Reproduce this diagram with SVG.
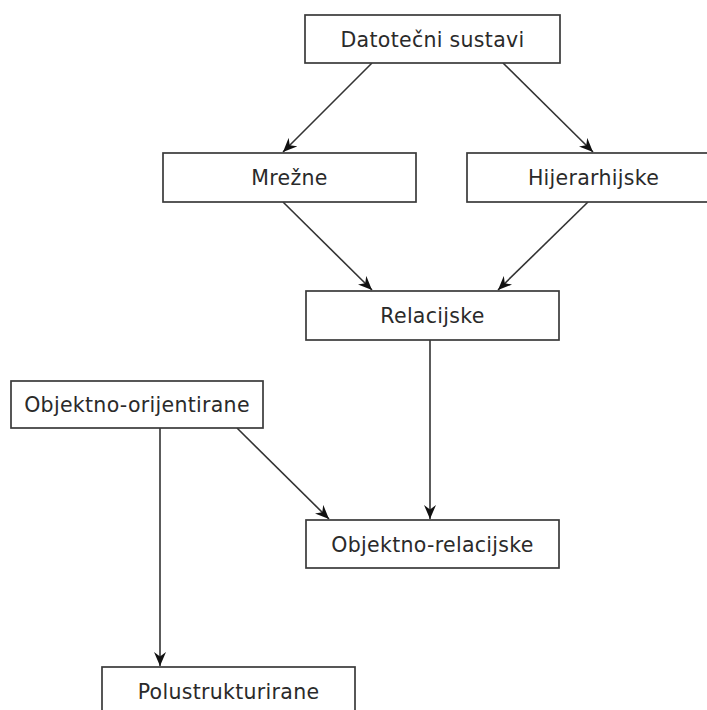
<svg xmlns="http://www.w3.org/2000/svg" width="707" height="710" viewBox="0 0 707 710">
<defs>
<style>
.box{fill:#fff;stroke:#3a3a3a;stroke-width:1.7}
.lbl{font-family:"DejaVu Sans",Verdana,sans-serif;font-size:20.5px;fill:#2a2a2a;text-anchor:middle;letter-spacing:0.3px}
.edge{stroke:#333;stroke-width:1.6;fill:none;marker-end:url(#arr)}
</style>
<marker id="arr" viewBox="0 0 14 12" refX="14" refY="6" markerWidth="14" markerHeight="12" markerUnits="userSpaceOnUse" orient="auto">
<path d="M0,0 L14,6 L0,12 L4.5,6 z" fill="#111"/>
</marker>
</defs>
<rect width="707" height="710" fill="#fff"/>
<g id="connectors">
<line class="edge" x1="372" y1="63" x2="283" y2="152"/>
<line class="edge" x1="503" y1="63" x2="593" y2="152"/>
<line class="edge" x1="283" y1="202" x2="372" y2="290"/>
<line class="edge" x1="588" y1="202" x2="498" y2="290"/>
<line class="edge" x1="430" y1="340" x2="430" y2="519"/>
<line class="edge" x1="237" y1="428" x2="329" y2="519"/>
<line class="edge" x1="160" y1="428" x2="160" y2="666"/>
</g>
<g id="datotecni">
<rect class="box" x="305" y="15" width="255" height="48"/>
<text class="lbl" x="432.5" y="46.5">Datotečni sustavi</text>
</g>
<g id="mrezne">
<rect class="box" x="163" y="153" width="253" height="49"/>
<text class="lbl" x="289.5" y="185">Mrežne</text>
</g>
<g id="hijerarhijske">
<rect class="box" x="467" y="153" width="253" height="49"/>
<text class="lbl" x="593.5" y="185">Hijerarhijske</text>
</g>
<g id="relacijske">
<rect class="box" x="306" y="291" width="253" height="49"/>
<text class="lbl" x="432.5" y="322.5">Relacijske</text>
</g>
<g id="objektno-orijentirane">
<rect class="box" x="11" y="381" width="252" height="47"/>
<text class="lbl" x="137" y="412">Objektno-orijentirane</text>
</g>
<g id="objektno-relacijske">
<rect class="box" x="306" y="520" width="253" height="48"/>
<text class="lbl" x="432.5" y="551.5">Objektno-relacijske</text>
</g>
<g id="polustrukturirane">
<rect class="box" x="102" y="667" width="253" height="48"/>
<text class="lbl" x="228.5" y="698.5">Polustrukturirane</text>
</g>
</svg>
